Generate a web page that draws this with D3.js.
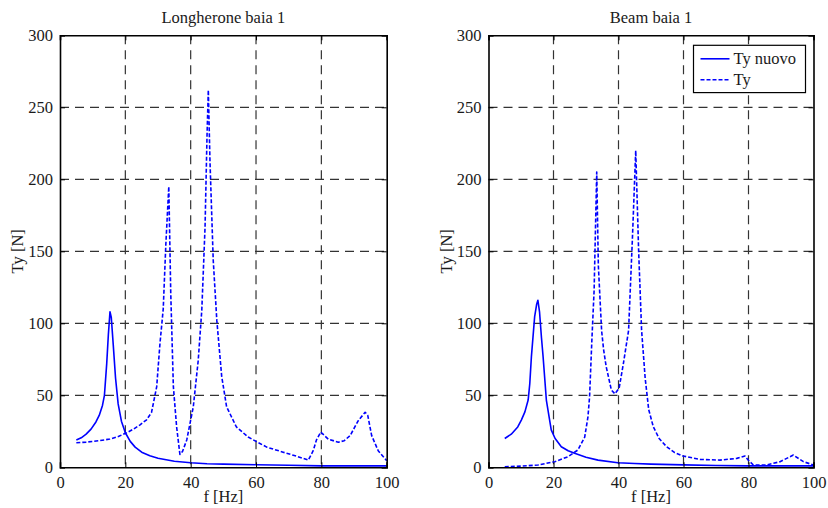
<!DOCTYPE html>
<html>
<head>
<meta charset="utf-8">
<script src="https://cdn.jsdelivr.net/npm/d3@7"></script>
<style>
  html, body { margin: 0; padding: 0; background: #fff; }
  svg { display: block; }
  text { font-family: "Liberation Serif", "DejaVu Serif", serif; fill: #1a1a1a; }
</style>
</head>
<body>
<svg id="chart" width="828" height="508"></svg>
<script>
// Frequency response of the transverse force Ty, bay 1

const xTicks = [0, 20, 40, 60, 80, 100];
const yTicks = [0, 50, 100, 150, 200, 250, 300];
const xLabel = "f [Hz]";
const yLabel = "Ty [N]";
const legendNames = ["Ty nuovo", "Ty"];

// Longherone baia 1 — Ty nuovo
const lonNuovoF = [5, 6.5, 8, 9.5, 11, 12, 13, 13.6, 14.3, 14.8, 15.3, 15.7, 16.3, 17, 17.8, 18.8, 20, 21.5, 23, 25, 27.5, 30, 35, 40, 45, 50, 60, 70, 80, 90, 100];
const lonNuovoT = [19, 20.5, 23, 26.5, 31.5, 36, 43, 50, 72, 92, 108, 104, 85, 62, 44, 32, 24, 18, 14, 10.5, 8, 6.3, 4.2, 3.2, 2.5, 2.2, 1.8, 1.4, 1.0, 1.0, 1.0];

// Longherone baia 1 — Ty
const lonTyF = [5, 8, 12, 15.3, 18, 20.4, 22.5, 24.5, 26.5, 28, 29.6, 30.6, 31.6, 32.4, 33.3, 33.9, 34.7, 35.7, 36.7, 37.5, 38.8, 40.8, 42.3, 43.4, 44.4, 45.0, 45.4, 45.9, 46.9, 48, 49.5, 51, 54, 57.6, 60, 63.3, 68.3, 72, 76, 77.5, 78.5, 79.8, 80.5, 82.1, 85.2, 87, 88.8, 91.3, 93.4, 94.2, 95.4, 97.4, 100];
const lonTyT = [17, 17.5, 18.5, 19.6, 21.5, 24, 26.5, 29.5, 33, 38, 56, 86, 110, 155, 195, 121, 56, 28, 9, 11, 19, 42, 74, 109, 167, 230, 262, 213, 144, 102, 63, 42, 28, 21, 18, 14, 10.5, 8, 5, 11.5, 19, 24.5, 23, 19.6, 17.4, 18.5, 22, 32.4, 38.2, 36, 22, 11.5, 4.6];

// Beam baia 1 — Ty nuovo
const beamNuovoF = [5, 7, 9, 10.1, 11.2, 12.2, 12.7, 13.2, 14.2, 14.8, 15.2, 15.7, 16.3, 16.8, 17.8, 19.3, 20.5, 22.4, 24.5, 26.5, 30, 33.7, 39.8, 45, 50, 60, 70, 80, 90, 100];
const beamNuovoT = [20, 23, 28, 32.8, 38.5, 46.7, 58, 76.8, 104.6, 113, 116, 108, 90, 76.8, 46.7, 26, 20, 14.3, 11.5, 9.7, 7, 5, 3.2, 2.6, 2.2, 1.7, 1.3, 1.0, 1.0, 1.0];

// Beam baia 1 — Ty
const beamTyF = [5, 10, 15.2, 20.4, 24.5, 27.5, 29.6, 30.6, 31.1, 31.8, 32.5, 33.3, 33.8, 34.8, 35.4, 36.2, 37.8, 38.9, 40.2, 41.5, 43.1, 44.3, 45.3, 46.2, 47.1, 48.2, 49.3, 50.7, 52.5, 54.8, 57.3, 59.9, 65.1, 71.2, 76.4, 78.9, 79.9, 81.5, 85.6, 89.7, 93.8, 96.9, 100];
const beamTyT = [0.4, 0.8, 1.6, 3.9, 7.4, 12, 21, 35, 49, 88, 123, 205, 140, 95, 82, 70, 53.7, 51, 55, 72, 95, 160, 220, 150, 95.3, 62, 40, 28.2, 20, 14.3, 10.2, 7.8, 5.5, 5, 6.2, 7.8, 5, 1.6, 1.6, 3.9, 8.5, 3.9, 1.6];

const zip = (f, t) => f.map((v, i) => ({ f: v, t: t[i] }));

const panels = [
  { title: "Longherone baia 1", left: 60, right: 386.7, legend: false,
    series: [{ data: zip(lonNuovoF, lonNuovoT), dash: null }, { data: zip(lonTyF, lonTyT), dash: "4,2" }] },
  { title: "Beam baia 1", left: 488.5, right: 813.5, legend: true,
    series: [{ data: zip(beamNuovoF, beamNuovoT), dash: null }, { data: zip(beamTyF, beamTyT), dash: "4,2" }] }
];

const plotTop = 35.3, plotBottom = 467.3;
const svg = d3.select("#chart");
const blue = "#0000ff";
const fontSize = 16.5;

panels.forEach(p => {
  const x = d3.scaleLinear().domain([0, 100]).range([p.left, p.right]);
  const y = d3.scaleLinear().domain([0, 300]).range([plotBottom, plotTop]);
  const g = svg.append("g");

  // grid
  g.append("g").selectAll("line").data(xTicks.slice(1, -1)).join("line")
    .attr("x1", d => x(d)).attr("x2", d => x(d)).attr("y1", plotTop).attr("y2", plotBottom)
    .attr("stroke", "#333").attr("stroke-width", 1.2).attr("stroke-dasharray", "9,6");
  g.append("g").selectAll("line").data(yTicks.slice(1, -1)).join("line")
    .attr("x1", p.left).attr("x2", p.right).attr("y1", d => y(d)).attr("y2", d => y(d))
    .attr("stroke", "#333").attr("stroke-width", 1.2).attr("stroke-dasharray", "9,6");

  // data lines
  const line = d3.line().x(d => x(d.f)).y(d => y(d.t));
  p.series.forEach(s => {
    g.append("path").datum(s.data).attr("d", line)
      .attr("fill", "none").attr("stroke", blue).attr("stroke-width", 1.6)
      .attr("stroke-linejoin", "round")
      .attr("stroke-dasharray", s.dash);
  });

  // axes
  const ax = g.append("g").attr("transform", `translate(0,${plotBottom})`)
    .call(d3.axisBottom(x).tickValues(xTicks).tickSize(-5).tickPadding(9));
  const ay = g.append("g").attr("transform", `translate(${p.left},0)`)
    .call(d3.axisLeft(y).tickValues(yTicks).tickSize(-5).tickPadding(7));
  const axTop = g.append("g").attr("transform", `translate(0,${plotTop})`)
    .call(d3.axisTop(x).tickValues(xTicks).tickSize(-5).tickFormat(""));
  const ayRight = g.append("g").attr("transform", `translate(${p.right},0)`)
    .call(d3.axisRight(y).tickValues(yTicks).tickSize(-5).tickFormat(""));
  [ax, ay, axTop, ayRight].forEach(a => {
    a.select(".domain").attr("stroke", "#000").attr("stroke-width", 1.6);
    a.selectAll(".tick line").attr("stroke", "#000").attr("stroke-width", 1);
    a.selectAll("text").attr("font-size", fontSize).attr("font-family", "Liberation Serif").attr("fill", "#1a1a1a");
  });

  // titles and labels
  const cx = (p.left + p.right) / 2;
  g.append("text").attr("x", cx).attr("y", 23).attr("text-anchor", "middle")
    .attr("font-size", fontSize).text(p.title);
  g.append("text").attr("x", cx).attr("y", 502).attr("text-anchor", "middle")
    .attr("font-size", fontSize).text(xLabel);
  g.append("text").attr("transform", `translate(${p.left - 37},${(plotTop + plotBottom) / 2}) rotate(-90)`)
    .attr("text-anchor", "middle").attr("font-size", fontSize).text(yLabel);

  if (p.legend) {
    const lx = 693.5, ly = 45.3, lw = 112, lh = 47.3;
    const lg = g.append("g");
    lg.append("rect").attr("x", lx).attr("y", ly).attr("width", lw).attr("height", lh)
      .attr("fill", "#fff").attr("stroke", "#000").attr("stroke-width", 1.2);
    legendNames.forEach((name, i) => {
      const yy = ly + 13.5 + i * 21;
      lg.append("line").attr("x1", lx + 7).attr("x2", lx + 36).attr("y1", yy).attr("y2", yy)
        .attr("stroke", blue).attr("stroke-width", 1.6)
        .attr("stroke-dasharray", p.series[i].dash);
      lg.append("text").attr("x", lx + 40).attr("y", yy + 5).attr("font-size", fontSize).text(name);
    });
  }
});
</script>
</body>
</html>
